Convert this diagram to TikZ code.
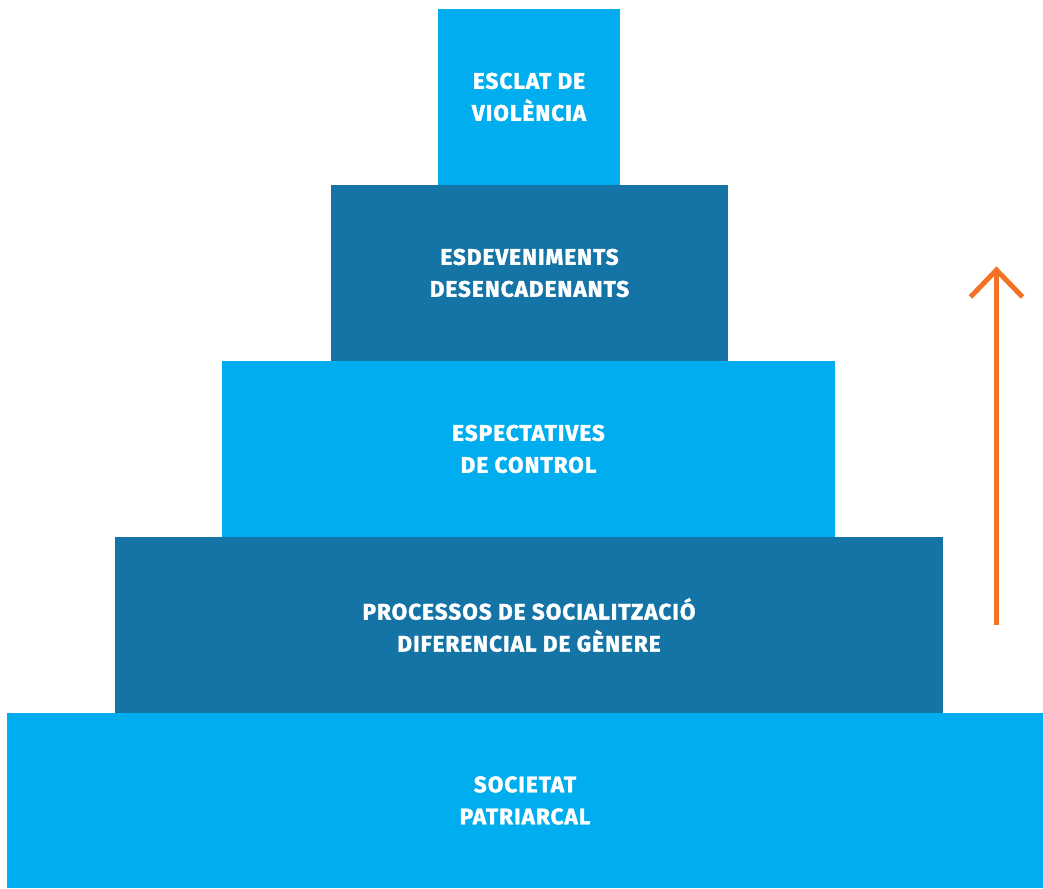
\documentclass[tikz,border=0pt]{standalone}
\usepackage{fontspec}
\setmainfont{Fira Sans}
\newfontfamily\heavyfont{Fira Sans}[FakeBold=1.8,LetterSpace=4.5]
\definecolor{lightblue}{RGB}{0,173,238}
\definecolor{darkblue}{RGB}{20,116,166}
\definecolor{arroworange}{RGB}{242,114,38}
\begin{document}
\begin{tikzpicture}[x=1pt,y=1pt,
  level/.style={rectangle,inner sep=0pt,outer sep=0pt,minimum height=176pt,
    text=white,align=center,font=\heavyfont\fontsize{22.5}{32}\selectfont\bfseries},
  lightlvl/.style={level,fill=lightblue},
  darklvl/.style={level,fill=darkblue},
  arrowline/.style={draw=arroworange,line width=5pt}]
\useasboundingbox (0,0) rectangle (1043,888);
\node[lightlvl,minimum width=182pt] (l1) at (529,791) {ESCLAT DE\\VIOLÈNCIA};
\node[darklvl,minimum width=397pt] (l2) at (529.5,615) {ESDEVENIMENTS\\DESENCADENANTS};
\node[lightlvl,minimum width=613pt] (l3) at (528.5,439) {ESPECTATIVES\\DE CONTROL};
\node[darklvl,minimum width=828pt] (l4) at (529,263) {PROCESSOS DE SOCIALITZACIÓ\\DIFERENCIAL DE GÈNERE};
\node[lightlvl,minimum width=1036pt,minimum height=175pt] (l5) at (525,87.5) {SOCIETAT\\PATRIARCAL};
\coordinate (abot) at (996.5,263);
\coordinate (atop) at (996.5,618);
\draw[arrowline] (abot) -- (atop);
\draw[arrowline,line join=miter] ([shift={(-26,-27)}]atop) -- (atop) -- ([shift={(26,-27)}]atop);
\end{tikzpicture}
\end{document}
